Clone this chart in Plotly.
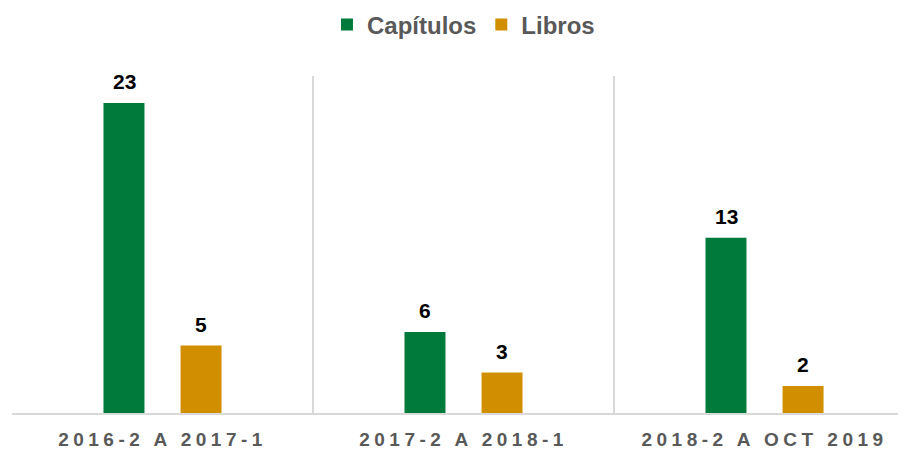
import plotly.graph_objects as go

categories = ["2016-2 A 2017-1", "2017-2 A 2018-1", "2018-2 A OCT 2019"]
capitulos = [23, 6, 13]
libros = [5, 3, 2]
series_names = ["Capítulos", "Libros"]
colors = ["#007A3A", "#D18F00"]

FONT = "Liberation Sans, Arial, sans-serif"

fig = go.Figure()
for name, vals, col in zip(series_names, [capitulos, libros], colors):
    fig.add_trace(go.Bar(x=categories, y=vals, name=f"<b>{name}</b>",
                         marker=dict(color=col, line=dict(width=0)),
                         hoverinfo="skip"))

# data labels
for vals, shift in [(capitulos, -38.5), (libros, 38.5)]:
    for c, v in zip(categories, vals):
        fig.add_annotation(x=c, y=v, text=f"<b>{v}</b>", showarrow=False,
                           xref="x", yref="y", xshift=shift, yshift=8,
                           yanchor="bottom",
                           font=dict(family=FONT, size=21, color="#000000"))

ticktext = [f'<span style="letter-spacing:4.5px">{c}</span>' for c in categories]

# the page body adds an 8px offset; the figure is sized to fill the rest of the window
fig.update_layout(
    width=898, height=442,
    paper_bgcolor="white", plot_bgcolor="white",
    margin=dict(l=4, r=0, t=68, b=37, autoexpand=False),
    barmode="group", bargap=0.488, bargroupgap=0.468,
    font=dict(family=FONT),
    legend=dict(orientation="h", x=0.505, xanchor="center", y=1.152, yref="paper",
                yanchor="middle", font=dict(family=FONT, size=24, color="#595959"),
                itemwidth=30, traceorder="normal", tracegroupgap=0),
    xaxis=dict(type="category", range=[-0.5, 2.47], tickvals=categories, ticktext=ticktext,
               tickson="boundaries", showgrid=True, gridcolor="#D9D9D9", gridwidth=1.5,
               showline=True, linecolor="#D9D9D9", linewidth=1.5, ticks="",
               ticklabelstandoff=8, zeroline=False, automargin=False,
               tickfont=dict(family=FONT, size=19, color="#595959", weight="bold")),
    yaxis=dict(range=[0, 25], visible=False, showgrid=False, zeroline=False, automargin=False),
)

fig.write_html("out.html")
